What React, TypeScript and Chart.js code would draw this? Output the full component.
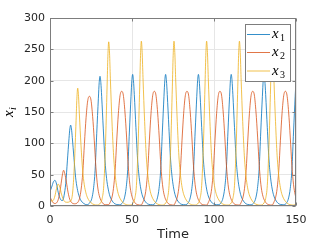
import React, { useEffect, useRef } from "react";
import { Chart, registerables } from "chart.js";

Chart.register(...registerables);

const xTicks = [0, 50, 100, 150];
const yTicks = [0, 50, 100, 150, 200, 250, 300];
const seriesNames = ["1", "2", "3"];
const seriesColors = ["#0072BD", "#D95319", "#EDB120"];

const x1Times = [0,1,2,3,4,5,6,7,7.8,8.6,9.6,10.6,11.6,12.1,12.6,13.1,13.6,14.6,15.6,16.6,17.6,18.6,20.6,22.5,24.5,25.5,26.5,27.5,28.5,29.5,30,30.5,31,31.5,32.5,33.5,34.5,35.5,36.5,38.5,40.5,42.4,44.4,45.4,46.4,47.4,48.4,49.4,49.9,50.4,50.9,51.4,52.4,53.4,54.4,55.4,56.4,58.4,60.4,62.5,64.5,65.5,66.5,67.5,68.5,69.5,70,70.5,71,71.5,72.5,73.5,74.5,75.5,76.5,78.5,80.5,82.5,84.5,85.5,86.5,87.5,88.5,89.5,90,90.5,91,91.5,92.5,93.5,94.5,95.5,96.5,98.5,100.5,102.5,104.5,105.5,106.5,107.5,108.5,109.5,110,110.5,111,111.5,112.5,113.5,114.5,115.5,116.5,118.5,120.5,122.5,124.5,125.5,126.5,127.5,128.5,129.5,130,130.5,131,131.5,132.5,133.5,134.5,135.5,136.5,138.5,140.5,142.5,144.5,145.5,146.5,147.5,148.5,149.5,150];
const x1Values = [23,30,38,41,35,22,13,9,9,17,36,72,108,123,129,123,109,77,46,28,17,10,4,2,6,12,27,57,116,172,197,207,197,175,123,74,44,27,16,6,2.5,2,6,13,28,58,118,175,200,210,200,178,125,75,45,27,16,6,2.5,2,6,13,28,58,118,175,200,210,200,178,125,75,45,27,16,6,2.5,2,6,13,28,58,118,175,200,210,200,178,125,75,45,27,16,6,2.5,2,6,13,28,58,118,175,200,210,200,178,125,75,45,27,16,6,2.5,2,6,13,28,58,118,175,200,210,200,178,125,75,45,27,16,6,2.5,2,6,13,28,58,118,175,200];

const x2Times = [0,1,2,3,4,5,6,7,7.7,8.3,9,10,11,12,13,14,15,16,17,18,19,20,21,22,23,24,25,26,27,28,29,30,32,34,35.7,36.7,37.7,38.7,39.7,40.7,41.7,42.7,43.7,44.7,45.7,46.7,47.7,48.7,49.7,51.7,53.7,55.6,56.6,57.6,58.6,59.6,60.6,61.6,62.6,63.6,64.6,65.6,66.6,67.6,68.6,69.6,71.6,73.6,75.5,76.5,77.5,78.5,79.5,80.5,81.5,82.5,83.5,84.5,85.5,86.5,87.5,88.5,89.5,91.5,93.5,95.6,96.6,97.6,98.6,99.6,100.6,101.6,102.6,103.6,104.6,105.6,106.6,107.6,108.6,109.6,111.6,113.6,115.6,116.6,117.6,118.6,119.6,120.6,121.6,122.6,123.6,124.6,125.6,126.6,127.6,128.6,129.6,131.6,133.6,135.5,136.5,137.5,138.5,139.5,140.5,141.5,142.5,143.5,144.5,145.5,146.5,147.5,148.5,149.5,150];
const x2Values = [15,9,5,4,5,10,22,40,52,57,52,38,22,11,6,4,3.5,4,6,12,27,54,100,141,168,175,169,143,105,61,32,17,5,2,2,6,13,28,57,105,148,176,183,177,150,110,64,34,18,5.5,2,1.5,6,13,28,57,105,148,176,183,177,150,110,64,34,18,5.5,2,1.5,6,13,28,57,105,148,176,183,177,150,110,64,34,18,5.5,2,1.5,6,13,28,57,105,148,176,183,177,150,110,64,34,18,5.5,2,1.5,6,13,28,57,105,148,176,183,177,150,110,64,34,18,5.5,2,1.5,6,13,28,57,105,148,176,183,177,150,110,64,34,18,13];

const x3Times = [0,1,2,3,4,5,6,7,8,9,10,11,12,12.9,13.9,14.9,15.9,16.4,16.9,17.4,17.9,18.9,19.9,20.9,21.9,22.9,24.9,26.9,28.8,30.8,31.8,32.8,33.8,34.8,35.3,35.8,36.3,36.8,37.8,38.8,39.8,40.8,41.8,43.8,45.8,48.7,50.7,51.7,52.7,53.7,54.7,55.2,55.7,56.2,56.7,57.7,58.7,59.7,60.7,61.7,63.7,65.7,68.6,70.6,71.6,72.6,73.6,74.6,75.1,75.6,76.1,76.6,77.6,78.6,79.6,80.6,81.6,83.6,85.6,88.5,90.5,91.5,92.5,93.5,94.5,95,95.5,96,96.5,97.5,98.5,99.5,100.5,101.5,103.5,105.5,108.5,110.5,111.5,112.5,113.5,114.5,115,115.5,116,116.5,117.5,118.5,119.5,120.5,121.5,123.5,125.5,128.5,130.5,131.5,132.5,133.5,134.5,135,135.5,136,136.5,137.5,138.5,139.5,140.5,141.5,143.5,145.5,148.5,150];
const x3Values = [11,8,9,16,28,35,30,19,11,7,6,6,7,9,24,68,136,172,188,175,147,97,57,34,21,13,5.5,2.2,1.5,5,12,33,95,190,239,262,244,204,134,80,48,29,18,7.5,3,1.5,5,12,33,95,190,240,263,245,205,135,80,48,29,18,7.5,3,1.5,5,12,33,95,190,240,263,245,205,135,80,48,29,18,7.5,3,1.5,5,12,33,95,190,240,263,245,205,135,80,48,29,18,7.5,3,1.5,5,12,33,95,190,240,263,245,205,135,80,48,29,18,7.5,3,1.5,5,12,33,95,190,240,263,245,205,135,80,48,29,18,7.5,3,1.5,3];

const toPoints = (ts: number[], vs: number[]) => ts.map((t, i) => ({ x: t, y: vs[i] }));

const decorPlugin = {
  id: "matlabDecor",
  afterDraw(chart: any) {
    const { ctx, chartArea: a, scales } = chart;
    const L = Math.round(a.left) + 0.5;
    const R = Math.round(a.right) - 0.5;
    const T = Math.round(a.top) + 0.5;
    const B = Math.round(a.bottom) - 0.5;
    ctx.save();
    ctx.strokeStyle = "#7d7d7d";
    ctx.lineWidth = 1;
    ctx.strokeRect(L, T, R - L, B - T);
    ctx.beginPath();
    const tl = 3;
    xTicks.forEach((v) => {
      const px = Math.round(scales.x.getPixelForValue(v)) + 0.5;
      ctx.moveTo(px, B);
      ctx.lineTo(px, B - tl);
      ctx.moveTo(px, T);
      ctx.lineTo(px, T + tl);
    });
    yTicks.forEach((v) => {
      const py = Math.round(scales.y.getPixelForValue(v)) + 0.5;
      ctx.moveTo(L, py);
      ctx.lineTo(L + tl, py);
      ctx.moveTo(R, py);
      ctx.lineTo(R - tl, py);
    });
    ctx.stroke();

    // legend
    const lx = 245.5, ly = 24.5, lw = 45, lh = 57;
    ctx.fillStyle = "#ffffff";
    ctx.fillRect(lx, ly, lw, lh);
    ctx.strokeStyle = "#7d7d7d";
    ctx.strokeRect(lx, ly, lw, lh);
    const rows = [34.5, 52.5, 71];
    seriesNames.forEach((n, i) => {
      const y = rows[i];
      ctx.strokeStyle = seriesColors[i];
      ctx.lineWidth = 0.8;
      ctx.beginPath();
      ctx.moveTo(247, y);
      ctx.lineTo(270, y);
      ctx.stroke();
      ctx.fillStyle = "#000000";
      ctx.textAlign = "left";
      ctx.textBaseline = "alphabetic";
      ctx.font = "italic 15px 'Liberation Serif'";
      ctx.fillText("x", 272, y + 3.5);
      ctx.font = "10px 'Liberation Serif'";
      ctx.fillText(n, 280, y + 6.5);
    });

    // axis titles
    ctx.fillStyle = "#262626";
    ctx.font = "13px 'DejaVu Sans'";
    ctx.textAlign = "center";
    ctx.textBaseline = "middle";
    ctx.fillText("Time", (a.left + a.right) / 2, 235);

    ctx.translate(9, 112);
    ctx.rotate(-Math.PI / 2);
    ctx.textAlign = "left";
    ctx.textBaseline = "alphabetic";
    ctx.fillStyle = "#000000";
    ctx.font = "italic 15px 'Liberation Serif'";
    ctx.fillText("x", -5, 3.5);
    ctx.font = "italic 10px 'Liberation Serif'";
    ctx.fillText("i", 2, 6.5);
    ctx.restore();
  },
};

export default function App() {
  const ref = useRef<HTMLCanvasElement | null>(null);
  useEffect(() => {
    if (!ref.current) return;
    const allTimes = [x1Times, x2Times, x3Times];
    const allValues = [x1Values, x2Values, x3Values];
    const chart = new Chart(ref.current, {
      type: "line",
      data: {
        datasets: seriesNames.map((n, i) => ({
          label: "x" + n,
          data: toPoints(allTimes[i], allValues[i]),
          borderColor: seriesColors[i],
          backgroundColor: seriesColors[i],
          borderWidth: 0.8,
          pointRadius: 0,
          fill: false,
          cubicInterpolationMode: "monotone" as const,
          order: 2 - i,
        })),
      },
      options: {
        responsive: false,
        animation: false,
        devicePixelRatio: 1,
        events: [],
        layout: { padding: { left: 0, top: 18, right: 31, bottom: 0 } },
        plugins: { legend: { display: false }, tooltip: { enabled: false }, title: { display: false } },
        scales: {
          x: {
            type: "linear",
            min: 0,
            max: 150,
            afterFit: (s: any) => { s.height = 39; },
            afterBuildTicks: (s: any) => { s.ticks = xTicks.map((v) => ({ value: v })); },
            ticks: { color: "#262626", font: { family: "'DejaVu Sans'", size: 11 }, padding: 8, maxRotation: 0 },
            grid: { color: "#e6e6e6", drawTicks: false, lineWidth: 1 },
            border: { display: false },
          },
          y: {
            type: "linear",
            min: 0,
            max: 300,
            afterFit: (s: any) => { s.width = 50; },
            afterBuildTicks: (s: any) => { s.ticks = yTicks.map((v) => ({ value: v })); },
            ticks: { color: "#262626", font: { family: "'DejaVu Sans'", size: 11 }, padding: 5 },
            grid: { color: "#e6e6e6", drawTicks: false, lineWidth: 1 },
            border: { display: false },
          },
        },
      },
      plugins: [decorPlugin],
    });
    return () => chart.destroy();
  }, []);
  return (
    <div style={{ position: "absolute", left: 0, top: 0, width: 327, height: 245, background: "#ffffff" }}>
      <canvas ref={ref} width={327} height={245} style={{ display: "block" }} />
    </div>
  );
}
